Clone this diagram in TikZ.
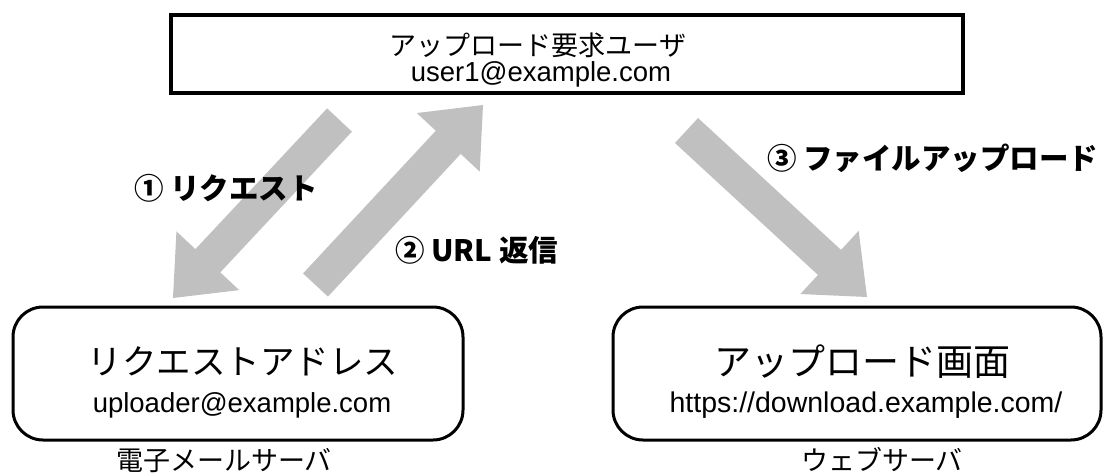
\documentclass[tikz,border=0pt]{standalone}
\usepackage{fontspec}
\setmainfont{Liberation Sans}
\newfontfamily\jp{Noto Sans CJK JP}
\usetikzlibrary{calc}
\definecolor{arrowgray}{RGB}{192,192,192}
\newcommand\blkarrow[2]{%
  \path (#1) coordinate (t) (#2) coordinate (h) ($(h)!51pt!(t)$) coordinate (b);
  \fill[arrowgray] ($(t)!17pt!90:(h)$) -- ($(b)!17pt!-90:(t)$) -- ($(b)!43pt!-90:(t)$) -- (h)
    -- ($(b)!43pt!90:(t)$) -- ($(b)!17pt!90:(t)$) -- ($(t)!17pt!-90:(h)$) -- cycle;}
\begin{document}
\begin{tikzpicture}[x=1pt,y=-1pt,
  txt/.style={inner sep=0pt, anchor=base},
  jpbig/.style={txt, font=\jp\fontsize{34.5}{40}\selectfont},
  jpmid/.style={txt, font=\jp\fontsize{27}{32}\selectfont},
  latin/.style={txt, font=\fontsize{27.5}{32}\selectfont},
  lbl/.style={inner sep=0pt, anchor=base west, font=\jp\bfseries\fontsize{29.5}{34}\selectfont},
  server/.style={draw, line width=3pt, rounded corners=30pt, inner sep=0pt}]
\useasboundingbox (0,0) rectangle (1103,476);
% arrows
\coordinate (a1t) at (339.5,120); \coordinate (a1h) at (173,298);
\coordinate (a2t) at (315.5,285); \coordinate (a2h) at (483,105);
\coordinate (a3t) at (686.5,130.5); \coordinate (a3h) at (867,297);
\blkarrow{a1t}{a1h}
\blkarrow{a2t}{a2h}
\blkarrow{a3t}{a3h}
% top box
\node[draw, line width=4pt, minimum width=792pt, minimum height=78pt, inner sep=0pt] (user) at (567,54) {};
\node[jpmid] (userjp) at (538,56) {アップロード要求ユーザ};
\node[latin] (usermail) at (541,82) {user1@example.com};
% left box
\node[server, minimum width=450pt, minimum height=133pt] (mail) at (238,373.5) {};
\node[jpbig] (mailjp) at (243,374) {リクエストアドレス};
\node[latin] (mailaddr) at (242,412) {uploader@example.com};
\node[jpmid] (mailsrv) at (224,470) {電子メールサーバ};
% right box
\node[server, minimum width=488pt, minimum height=133pt] (web) at (857,373.5) {};
\node[jpbig, font=\jp\fontsize{37}{40}\selectfont] (webjp) at (862,375) {アップロード画面};
\node[latin, font=\fontsize{28.5}{32}\selectfont] (weburl) at (866,412) {https://download.example.com/};
\node[jpmid] (websrv) at (882,470) {ウェブサーバ};
% labels
\node[lbl] (l1) at (134,199) {① リクエスト};
\node[lbl] (l2) at (395,261) {② URL 返信};
\node[lbl] (l3) at (767,170) {③ ファイルアップロード};
\end{tikzpicture}
\end{document}
